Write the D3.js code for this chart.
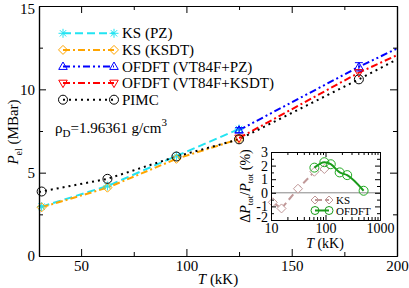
<!DOCTYPE html>
<html>
<head>
<meta charset="utf-8">
<script src="https://cdn.jsdelivr.net/npm/d3@7"></script>
</head>
<body style="margin:0">
<svg width="409" height="288" font-family="Times New Roman" style="font-family:'Liberation Serif','Times New Roman'"></svg>
<script>
// main panel data (T in kK, P_el in MBar)
var T_KS = [31.25, 62.5, 95.25, 125];
var ksPZ = [2.96, 4.2, 6.0, 7.62];
var ksKSDT = [2.92, 4.1, 5.83, 7.02];
var T_OF = [125, 181.9];
var ofPZ = [7.55, 11.35];
var ofKSDT = [7.08, 11.0];
var ofPZErr = [0.15, 0.25];
var T_PIMC = [31.25, 62.5, 95.25, 125, 181.9];
var pimc = [3.87, 4.63, 5.97, 7.0, 10.6];

// fitted curves
var fitT_OF = [125, 181.9, 200];
var fitPZ = [7.55, 11.35, 12.45];
var fitKSDT = [7.08, 11.0, 12.05];
var fitT_PIMC = [30, 62.5, 95.25, 125, 181.9, 200];
var fitPIMC = [3.84, 4.63, 5.97, 7.0, 10.6, 11.8];

var xTicks = [50, 100, 150, 200];
var xMinor = [75, 125, 175];
var yTicks = [0, 5, 10, 15];
var yMinor = [2.5, 7.5, 12.5];

// inset data (T in kK, dP/P in %)
var insT_KS = [10.77, 15.6, 31.25, 62.5, 95.25];
var insKS = [-0.7, -1.15, 0.3, 1.55, 1.75];
var insT_OF = [62.5, 95.25, 125, 181.9, 250, 500];
var insOF = [1.85, 2.25, 2.1, 1.5, 1.3, 0.15];
var insXTicks = [10, 100, 1000];
var insYTicks = [-2, -1, 0, 1, 2, 3];

var svg = d3.select("svg");

var x = d3.scaleLinear().domain([30, 200]).range([39, 397]);
var y = d3.scaleLinear().domain([0, 15]).range([256, 6]);

function zip(xs, ys) {
    return xs.map(function (d, i) { return [d, ys[i]]; });
}

function serif(sel) {
    sel.attr("font-family", "Times New Roman").style("font-family", "'Liberation Serif'");
    return sel;
}

function addText(parent, fs) {
    return serif(parent.append("text").attr("font-size", fs).attr("fill", "#000"));
}

// marker paths centred on 0,0
function markerPath(type, r) {
    var p = d3.path();
    if (type == "star") {
        for (var k = 0; k < 4; k++) {
            var a = k * Math.PI / 4;
            p.moveTo(-r * Math.cos(a), -r * Math.sin(a));
            p.lineTo(r * Math.cos(a), r * Math.sin(a));
        }
    } else if (type == "diamond") {
        p.moveTo(0, -r); p.lineTo(r, 0); p.lineTo(0, r); p.lineTo(-r, 0); p.closePath();
    } else if (type == "up") {
        p.moveTo(0, -r); p.lineTo(r * 0.95, r * 0.65); p.lineTo(-r * 0.95, r * 0.65); p.closePath();
    } else if (type == "down") {
        p.moveTo(0, r); p.lineTo(r * 0.95, -r * 0.65); p.lineTo(-r * 0.95, -r * 0.65); p.closePath();
    } else {
        p.arc(0, 0, r, 0, 2 * Math.PI);
    }
    return p.toString();
}

var series = [
    { name: "KS (PZ)", color: "#22e4f2", dash: "8,4", marker: "star", line: zip(T_KS, ksPZ), pts: zip(T_KS, ksPZ) },
    { name: "KS (KSDT)", color: "#ffa500", dash: "7,3,2,3", marker: "diamond", line: zip(T_KS, ksKSDT), pts: zip(T_KS, ksKSDT) },
    { name: "OFDFT (VT84F+PZ)", color: "#0000ff", dash: "7,3,2,3,2,3", marker: "up", line: zip(fitT_OF, fitPZ), pts: zip(T_OF, ofPZ), err: ofPZErr },
    { name: "OFDFT (VT84F+KSDT)", color: "#ff0000", dash: "7,3,2,3", marker: "down", line: zip(fitT_OF, fitKSDT), pts: zip(T_OF, ofKSDT) },
    { name: "PIMC", color: "#000", dash: "2,4", marker: "circle", line: zip(fitT_PIMC, fitPIMC), pts: zip(T_PIMC, pimc) }
];

var line = d3.line()
    .x(function (d) { return x(d[0]); })
    .y(function (d) { return y(d[1]); });

var plot = svg.append("g");

// lines
series.forEach(function (s) {
    plot.append("path")
        .attr("d", line(s.line))
        .attr("fill", "none")
        .attr("stroke", s.color)
        .attr("stroke-width", 2)
        .attr("stroke-dasharray", s.dash);
});

// error bars and markers
series.forEach(function (s) {
    if (s.err) {
        s.pts.forEach(function (d, i) {
            var g = plot.append("g").attr("stroke", s.color).attr("stroke-width", 1);
            g.append("line").attr("x1", x(d[0])).attr("x2", x(d[0]))
                .attr("y1", y(d[1] - s.err[i])).attr("y2", y(d[1] + s.err[i]));
            g.append("line").attr("x1", x(d[0]) - 4).attr("x2", x(d[0]) + 4)
                .attr("y1", y(d[1] + s.err[i])).attr("y2", y(d[1] + s.err[i]));
            g.append("line").attr("x1", x(d[0]) - 4).attr("x2", x(d[0]) + 4)
                .attr("y1", y(d[1] - s.err[i])).attr("y2", y(d[1] - s.err[i]));
        });
    }
    plot.selectAll(null).data(s.pts).enter().append("path")
        .attr("transform", function (d) { return "translate(" + x(d[0]) + "," + y(d[1]) + ")"; })
        .attr("d", markerPath(s.marker, 4.5))
        .attr("fill", "none")
        .attr("stroke", s.color)
        .attr("stroke-width", 1);
});

// axes with inward ticks on all sides
function addAxis(axis, tr, size, ticks, labels, fs, pad, sw) {
    var g = svg.append("g").attr("transform", tr)
        .call(axis.tickValues(ticks).tickSize(size).tickSizeOuter(0).tickPadding(pad)
            .tickFormat(labels ? function (d) { return String(d); } : ""));
    serif(g).attr("font-size", fs);
    serif(g.selectAll("text")).attr("fill", "#000");
    g.select(".domain").attr("stroke-width", sw);
    return g;
}
addAxis(d3.axisBottom(x), "translate(0,256)", -7, xTicks, true, 15, 4, 1.2);
addAxis(d3.axisBottom(x), "translate(0,256)", -4, xMinor, false, 15, 4, 1.2);
addAxis(d3.axisTop(x), "translate(0,6)", -7, xTicks, false, 15, 4, 1.2);
addAxis(d3.axisTop(x), "translate(0,6)", -4, xMinor, false, 15, 4, 1.2);
var yAx = addAxis(d3.axisLeft(y), "translate(39,0)", -7, yTicks, true, 15, 4, 1.2);
yAx.selectAll(".tick text").filter(function (d) { return d == 15; }).attr("dy", "0.5em");
addAxis(d3.axisLeft(y), "translate(39,0)", -4, yMinor, false, 15, 4, 1.2);
addAxis(d3.axisRight(y), "translate(397,0)", -7, yTicks, false, 15, 4, 1.2);
addAxis(d3.axisRight(y), "translate(397,0)", -4, yMinor, false, 15, 4, 1.2);

// axis titles
var xt = addText(svg, 15).attr("x", 218).attr("y", 284).attr("text-anchor", "middle");
xt.append("tspan").attr("font-style", "italic").text("T");
xt.append("tspan").text(" (kK)");

var yt = addText(svg, 15).attr("transform", "translate(18,132) rotate(-90)")
    .attr("text-anchor", "middle");
yt.append("tspan").attr("font-style", "italic").text("P");
yt.append("tspan").attr("font-size", 10).attr("dy", 4).text("el");
yt.append("tspan").attr("dy", -4).text(" (MBar)");

// legend
var leg = svg.append("g");
series.forEach(function (s, i) {
    var ly = 33.3 + i * 16.6;
    leg.append("line").attr("x1", 63).attr("x2", 114).attr("y1", ly).attr("y2", ly)
        .attr("stroke", s.color).attr("stroke-width", 2).attr("stroke-dasharray", s.dash);
    [63, 114].forEach(function (lx) {
        leg.append("path").attr("transform", "translate(" + lx + "," + ly + ")")
            .attr("d", markerPath(s.marker, 4.5))
            .attr("fill", "none").attr("stroke", s.color).attr("stroke-width", 1);
    });
    addText(leg, 15).attr("x", 122).attr("y", ly + 5).text(s.name);
});

var rho = addText(svg, 15).attr("x", 55).attr("y", 133);
rho.append("tspan").text("ρ");
rho.append("tspan").attr("font-size", 11).attr("dy", 4).text("D");
rho.append("tspan").attr("dy", -4).text("=1.96361 g/cm");
rho.append("tspan").attr("font-size", 11).attr("dy", -7).text("3");

// inset
var ix = d3.scaleLog().domain([10, 1000]).range([271, 380]);
var iy = d3.scaleLinear().domain([-2, 3]).range([220, 152]);

svg.append("rect").attr("x", 271).attr("y", 152).attr("width", 109).attr("height", 68)
    .attr("fill", "#fff");

svg.append("line").attr("x1", 271).attr("x2", 380).attr("y1", iy(0)).attr("y2", iy(0))
    .attr("stroke", "#888").attr("stroke-width", 1);

var insMinor = [];
[10, 100].forEach(function (b) {
    for (var k = 2; k < 10; k++) insMinor.push(b * k);
});
var insYMinor = [-1.5, -0.5, 0.5, 1.5, 2.5];

var iline = d3.line()
    .x(function (d) { return ix(d[0]); })
    .y(function (d) { return iy(d[1]); });

svg.append("path").attr("d", iline(zip(insT_KS, insKS)))
    .attr("fill", "none").attr("stroke", "#c09898").attr("stroke-width", 2).attr("stroke-dasharray", "7,4");
svg.selectAll(null).data(zip(insT_KS, insKS)).enter().append("path")
    .attr("transform", function (d) { return "translate(" + ix(d[0]) + "," + iy(d[1]) + ")"; })
    .attr("d", markerPath("diamond", 4.5))
    .attr("fill", "#fff").attr("stroke", "#c09898").attr("stroke-width", 1);

svg.append("path").attr("d", iline.curve(d3.curveMonotoneX)(zip(insT_OF, insOF)))
    .attr("fill", "none").attr("stroke", "#1a9a1a").attr("stroke-width", 2);
svg.selectAll(null).data(zip(insT_OF, insOF)).enter().append("path")
    .attr("transform", function (d) { return "translate(" + ix(d[0]) + "," + iy(d[1]) + ")"; })
    .attr("d", markerPath("circle", 4.5))
    .attr("fill", "none").attr("stroke", "#22aa22").attr("stroke-width", 1);

addAxis(d3.axisBottom(ix), "translate(0,220)", -5, insXTicks, true, 14, 3, 1);
addAxis(d3.axisBottom(ix), "translate(0,220)", -3, insMinor, false, 14, 3, 1);
addAxis(d3.axisTop(ix), "translate(0,152)", -5, insXTicks, false, 14, 3, 1);
addAxis(d3.axisTop(ix), "translate(0,152)", -3, insMinor, false, 14, 3, 1);
var iyAx = addAxis(d3.axisLeft(iy), "translate(271,0)", -5, insYTicks, true, 14, 3, 1);
iyAx.selectAll(".tick text").filter(function (d) { return d == -2; }).attr("dy", "0.1em");
addAxis(d3.axisLeft(iy), "translate(271,0)", -3, insYMinor, false, 14, 3, 1);
addAxis(d3.axisRight(iy), "translate(380,0)", -5, insYTicks, false, 14, 3, 1);
addAxis(d3.axisRight(iy), "translate(380,0)", -3, insYMinor, false, 14, 3, 1);

var ixt = addText(svg, 14).attr("x", 325).attr("y", 248).attr("text-anchor", "middle");
ixt.append("tspan").attr("font-style", "italic").text("T");
ixt.append("tspan").text(" (kK)");

var iyt = addText(svg, 14).attr("transform", "translate(250,186) rotate(-90)")
    .attr("text-anchor", "middle");
iyt.append("tspan").text("Δ");
iyt.append("tspan").attr("font-style", "italic").text("P");
iyt.append("tspan").attr("font-size", 9).attr("dy", 3).text("tot");
iyt.append("tspan").attr("dy", -3).text("/");
iyt.append("tspan").attr("font-style", "italic").text("P");
iyt.append("tspan").attr("font-size", 9).attr("dy", 3).text("tot");
iyt.append("tspan").attr("dy", -3).text(" (%)");

// inset legend
var insLeg = [
    { name: "KS", color: "#c09898", marker: "diamond", dash: "7,4" },
    { name: "OFDFT", color: "#1a9a1a", marker: "circle", dash: null }
];
insLeg.forEach(function (s, i) {
    var ly = 200 + i * 10.5;
    svg.append("line").attr("x1", 315).attr("x2", 329).attr("y1", ly).attr("y2", ly)
        .attr("stroke", s.color).attr("stroke-width", 2).attr("stroke-dasharray", s.dash);
    [315, 329].forEach(function (lx) {
        svg.append("path").attr("transform", "translate(" + lx + "," + ly + ")")
            .attr("d", markerPath(s.marker, 4))
            .attr("fill", "none").attr("stroke", s.color).attr("stroke-width", 1);
    });
    addText(svg, 11).attr("x", 336).attr("y", ly + 4).text(s.name);
});
</script>
</body>
</html>
